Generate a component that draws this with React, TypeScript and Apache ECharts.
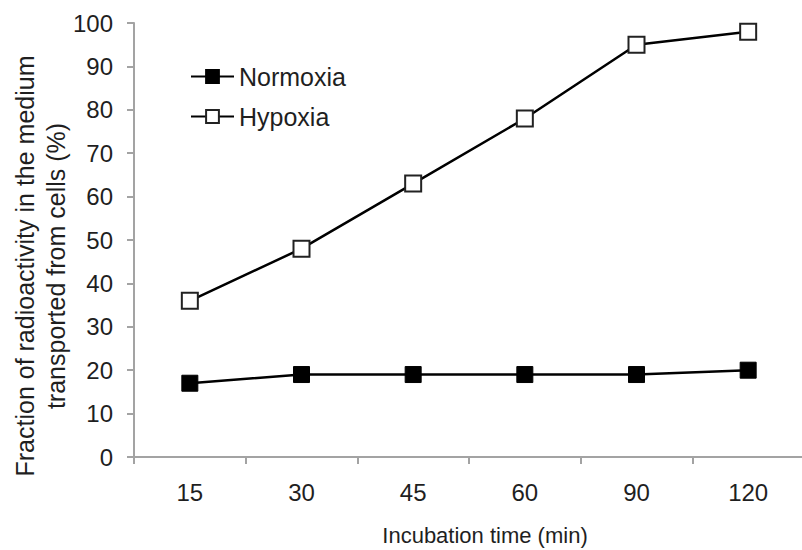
import React, { useEffect, useRef } from "react";
import * as echarts from "echarts";

const categories = ["15", "30", "45", "60", "90", "120"];
const normoxia = [17, 19, 19, 19, 19, 20];
const hypoxia = [36, 48, 63, 78, 95, 98];
const yTitleLines = ["Fraction of radioactivity in the medium", "transported from cells (%)"];
const xTitle = "Incubation time (min)";

const FONT = "'Liberation Sans', Arial, sans-serif";
const TEXT = "#1f1f1f";
const AXIS = "#a3a3a3";

export default function App() {
  const ref = useRef<HTMLDivElement>(null);

  useEffect(() => {
    if (!ref.current) return;
    const chart = echarts.init(ref.current, null, { renderer: "svg" });
    chart.setOption({
      animation: false,
      backgroundColor: "#ffffff",
      textStyle: { fontFamily: FONT },
      grid: {
        left: 134,
        top: 23,
        width: 670,
        height: 434,
        containLabel: false,
        outerBoundsMode: "none",
      },
      legend: {
        left: 185,
        top: 59,
        orient: "vertical",
        itemWidth: 43,
        itemHeight: 16,
        itemGap: 15,
        textStyle: { fontFamily: FONT, fontSize: 25, lineHeight: 25, color: TEXT },
        data: ["Normoxia", "Hypoxia"],
      },
      graphic: [
        {
          type: "text",
          x: 40,
          y: 266,
          rotation: Math.PI / 2,
          style: {
            text: yTitleLines.join("\n"),
            font: `25px ${FONT}`,
            fill: TEXT,
            align: "center",
            verticalAlign: "middle",
            lineHeight: 31,
          },
        },
      ],
      xAxis: {
        type: "category",
        data: categories,
        boundaryGap: true,
        name: xTitle,
        nameLocation: "middle",
        nameGap: 67,
        nameTextStyle: { fontFamily: FONT, fontSize: 22, color: TEXT, padding: [0, 0, 0, 32] },
        axisLine: { lineStyle: { color: AXIS, width: 2 } },
        axisTick: { show: true, length: 7, lineStyle: { color: AXIS, width: 2 } },
        axisLabel: { fontFamily: FONT, fontSize: 24, color: TEXT, margin: 23 },
        splitLine: { show: false },
      },
      yAxis: {
        type: "value",
        min: 0,
        max: 100,
        interval: 10,
        axisLine: { show: true, lineStyle: { color: AXIS, width: 2 } },
        axisTick: { show: true, length: 7, lineStyle: { color: AXIS, width: 2 } },
        axisLabel: { fontFamily: FONT, fontSize: 24, color: TEXT, margin: 21 },
        splitLine: { show: false },
      },
      series: [
        {
          name: "Normoxia",
          type: "line",
          data: normoxia,
          symbol: "rect",
          symbolSize: 16,
          lineStyle: { color: "#000", width: 2.5 },
          itemStyle: { color: "#000", borderColor: "#000", borderWidth: 1 },
        },
        {
          name: "Hypoxia",
          type: "line",
          data: hypoxia,
          symbol: "rect",
          symbolSize: 16,
          lineStyle: { color: "#000", width: 2.5 },
          itemStyle: { color: "#ffffff", borderColor: "#222", borderWidth: 2 },
        },
      ],
    });
    return () => chart.dispose();
  }, []);

  return <div ref={ref} style={{ width: 802, height: 550, position: "absolute", left: 0, top: 0 }} />;
}
